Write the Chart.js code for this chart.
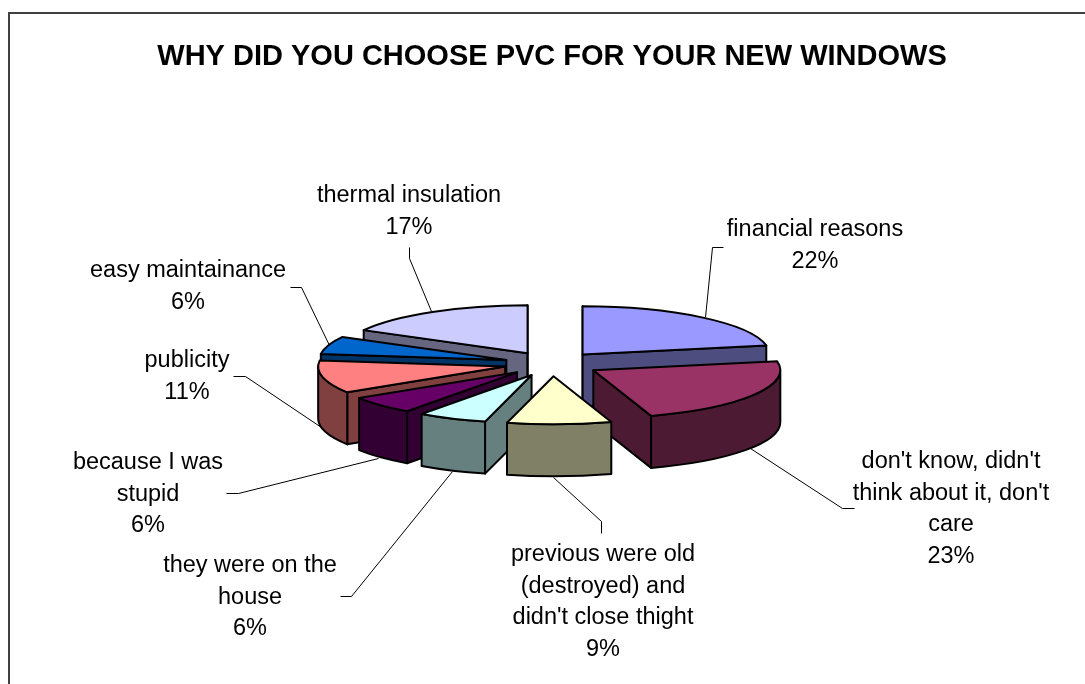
<!DOCTYPE html>
<html>
<head>
<meta charset="utf-8">
<title>Why did you choose PVC</title>
<style>
  html, body { margin: 0; padding: 0; background: #fff; overflow: hidden; }
  #wrap { position: relative; width: 1085px; height: 684px; }
</style>
<script src="https://cdn.jsdelivr.net/npm/chart.js@4"></script>
</head>
<body>
<div id="wrap"><canvas id="chart" width="1085" height="684"></canvas></div>
<script>
const chartTitle = 'WHY DID YOU CHOOSE PVC FOR YOUR NEW WINDOWS';
const categories = [
  'financial reasons',
  "don't know, didn't think about it, don't care",
  "previous were old (destroyed) and didn't close thight",
  'they were on the house',
  'because I was stupid',
  'publicity',
  'easy maintainance',
  'thermal insulation'
];
const shares = [22, 23, 9, 6, 6, 11, 6, 17];

// how each category name wraps in the picture
const labelLines = [
  ['financial reasons'],
  ["don't know, didn't", "think about it, don't", 'care'],
  ['previous were old', '(destroyed) and', "didn't close thight"],
  ['they were on the', 'house'],
  ['because I was', 'stupid'],
  ['publicity'],
  ['easy maintainance'],
  ['thermal insulation']
];

const faceColors = ['#9999FF', '#993366', '#FFFFCC', '#CCFFFF', '#660066', '#FF8080', '#0066CC', '#CCCCFF'];
const wallColors = ['#4D4D80', '#4D1A33', '#808066', '#668080', '#330033', '#804040', '#003366', '#666680'];

// label anchor: centre x, middle y of the first line
const labelAnchors = [[815, 230], [951, 462], [603, 555], [250, 566], [148, 463], [187, 361], [188, 271], [409, 196]];
const leaderLines = [
  [[723, 247], [712, 247], [705, 317]],
  [[854, 508], [842, 508], [750, 448]],
  [[601, 533], [601, 521], [553, 477]],
  [[340, 596], [351, 596], [452, 471]],
  [[226, 493], [238, 493], [378, 458]],
  [[233, 376], [245, 376], [321, 427]],
  [[290, 287], [301, 287], [329, 345]],
  [[409, 247], [409, 258], [431, 311]]
];

const TILT = 0.257;   // squash of the pie plane
const DEPTH = 52;     // height of the extruded walls
const LINE_H = 31.4;
const FONT = '"Liberation Sans", Arial, sans-serif';

function drawSlice(ctx, arc, i) {
  const R = arc.outerRadius;
  const d = (arc.options.offset || 0) / 4;
  const a0 = arc.startAngle, a1 = arc.endAngle;
  const mid = (a0 + a1) / 2;
  const cx = arc.x + Math.cos(mid) * d;
  const cy = arc.y + Math.sin(mid) * d * TILT;
  const px = a => cx + Math.cos(a) * R;
  const py = a => cy + Math.sin(a) * R * TILT;

  ctx.lineJoin = 'round';
  ctx.lineWidth = arc.options.borderWidth;
  ctx.strokeStyle = arc.options.borderColor;

  const wall = a => {
    ctx.beginPath();
    ctx.moveTo(cx, cy);
    ctx.lineTo(px(a), py(a));
    ctx.lineTo(px(a), py(a) + DEPTH);
    ctx.lineTo(cx, cy + DEPTH);
    ctx.closePath();
    ctx.fillStyle = wallColors[i];
    ctx.fill();
    ctx.stroke();
  };

  // side walls that face the viewer: angles are canvas angles, 0 = east, clockwise
  if (Math.cos(a0) < 0.0001) wall(a0);
  if (Math.cos(a1) > -0.0001) wall(a1);

  // rim, only the front half of the ellipse shows
  const r0 = Math.max(a0, 0), r1 = Math.min(a1, Math.PI);
  if (r1 > r0) {
    ctx.beginPath();
    ctx.ellipse(cx, cy, R, R * TILT, 0, r0, r1);
    ctx.lineTo(px(r1), py(r1) + DEPTH);
    ctx.ellipse(cx, cy + DEPTH, R, R * TILT, 0, r1, r0, true);
    ctx.closePath();
    ctx.fillStyle = wallColors[i];
    ctx.fill();
    ctx.stroke();
  }

  // top face
  ctx.beginPath();
  ctx.moveTo(cx, cy);
  ctx.ellipse(cx, cy, R, R * TILT, 0, a0, a1);
  ctx.closePath();
  ctx.fillStyle = arc.options.backgroundColor;
  ctx.fill();
  ctx.stroke();
}

const pie3d = {
  id: 'pie3d',
  beforeDraw(chart) {
    // frame runs off the right and bottom of the picture
    const ctx = chart.ctx;
    ctx.save();
    ctx.strokeStyle = '#404040';
    ctx.lineWidth = 2;
    ctx.beginPath();
    ctx.moveTo(9, 684);
    ctx.lineTo(9, 13);
    ctx.lineTo(1085, 13);
    ctx.stroke();
    ctx.restore();
  },
  beforeDatasetDraw(chart, args) {
    const ctx = chart.ctx;
    const arcs = args.meta.data;
    // back to front, by how far down the slice centre falls
    const order = arcs.map((a, i) => i)
      .sort((p, q) => Math.sin((arcs[p].startAngle + arcs[p].endAngle) / 2) -
                      Math.sin((arcs[q].startAngle + arcs[q].endAngle) / 2));
    ctx.save();
    order.forEach(i => drawSlice(ctx, arcs[i], i));
    ctx.restore();
    return false;
  },
  afterDatasetsDraw(chart) {
    const ctx = chart.ctx;
    ctx.save();
    ctx.strokeStyle = '#000';
    ctx.lineWidth = 1;
    leaderLines.forEach(pts => {
      ctx.beginPath();
      pts.forEach((p, k) => k ? ctx.lineTo(p[0] + 0.5, p[1] + 0.5) : ctx.moveTo(p[0] + 0.5, p[1] + 0.5));
      ctx.stroke();
    });
    ctx.fillStyle = '#000';
    ctx.font = '23.5px ' + FONT;
    ctx.textAlign = 'center';
    ctx.textBaseline = 'middle';
    labelLines.forEach((lines, i) => {
      const [x, y] = labelAnchors[i];
      lines.concat(shares[i] + '%').forEach((t, k) => ctx.fillText(t, x, y + k * LINE_H));
    });
    ctx.restore();
  }
};

new Chart(document.getElementById('chart'), {
  type: 'pie',
  data: {
    labels: categories,
    datasets: [{
      data: shares,
      backgroundColor: faceColors,
      borderColor: '#000',
      borderWidth: 2,
      offset: 192,
      radius: 187
    }]
  },
  options: {
    responsive: false,
    animation: false,
    layout: { padding: { left: 19, top: 0, right: 0, bottom: 31 } },
    plugins: {
      legend: { display: false },
      tooltip: { enabled: false },
      title: {
        display: true,
        text: chartTitle,
        color: '#000',
        font: { family: FONT, size: 29, weight: 'bold' },
        padding: { top: 40, bottom: 0 }
      }
    }
  },
  plugins: [pie3d]
});
</script>
</body>
</html>
